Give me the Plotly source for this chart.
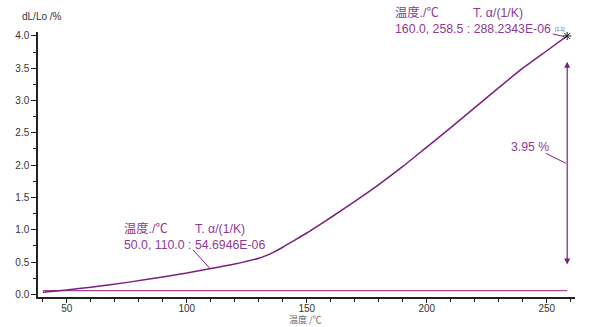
import plotly.graph_objects as go

# data
temp = [40, 50, 60, 76, 90, 100, 110, 120, 130, 133, 136, 140, 145, 150, 155, 160, 170, 180, 190, 200, 210, 220, 230, 240, 250, 258.5]
dl = [0.035, 0.07, 0.11, 0.19, 0.27, 0.33, 0.40, 0.47, 0.56, 0.60, 0.65, 0.73, 0.84, 0.95, 1.07, 1.19, 1.44, 1.70, 1.98, 2.28, 2.58, 2.89, 3.20, 3.50, 3.77, 4.00]
base_x = [40, 258.5]
base_y = [0.06, 0.06]
x_ticks = [50, 100, 150, 200, 250]
y_ticks = [0.0, 0.5, 1.0, 1.5, 2.0, 2.5, 3.0, 3.5, 4.0]

PURPLE = "#7a1f80"
PINK = "#a8449a"
TXT = "#8e3a93"
CJK = "Noto Sans CJK SC"
SANS = "Liberation Sans, Arial, sans-serif"
MIX = "Liberation Sans, Noto Sans CJK SC, sans-serif"
NB = "\u00a0"

L, R, T, B, W, H = 38, 14, 32, 30, 589, 327
PW, PH = W - L - R, H - T - B

def dx(px):
    return (px - L) / PW

def dy(py):
    return (H - B - py) / PH

fig = go.Figure()
fig.add_trace(go.Scatter(x=base_x, y=base_y, mode="lines", line=dict(color=PINK, width=1.2), hoverinfo="skip"))
fig.add_trace(go.Scatter(x=temp, y=dl, mode="lines", line=dict(color=PURPLE, width=1.5, shape="spline", smoothing=0.5), hoverinfo="skip"))
fig.add_trace(go.Scatter(x=[258.5], y=[4.0], mode="markers", marker=dict(symbol="asterisk", size=7, line=dict(color="#222", width=1)), hoverinfo="skip"))

def txt(px, py, s, size=12.3, font=MIX, color=TXT, xanchor="left"):
    fig.add_annotation(x=dx(px), y=dy(py), xref="x domain", yref="y domain", text=s, showarrow=False,
                       xanchor=xanchor, yanchor="middle", align="left", font=dict(family=font, size=size, color=color))

# top readout
txt(392.7, 20.0, "温度./℃" + NB * 10 + "T. α/(1/K)<br>160.0, 258.5 : 288.2343E-06")
txt(553, 29, "[1.1]", size=5, color="#555")
# bottom readout
txt(121.7, 236.7, "温度./℃" + NB * 8 + "T. α/(1/K)<br>50.0, 110.0 : 54.6946E-06")
# percent label
txt(530, 146.7, "3.95 %", xanchor="center")

# double arrow
fig.add_annotation(x=258.5, y=3.6, ax=258.5, ay=0.44, xref="x", yref="y", axref="x", ayref="y", text="",
                   showarrow=True, arrowhead=2, arrowside="end+start", arrowsize=1, arrowwidth=1.2, arrowcolor=PURPLE)
# axis titles
txt(20, 16.5, "dL/Lo /%", size=10, font=SANS, color="#333")
txt(305.5, 319.5, "温度 /℃", size=9, font=CJK, color="#666", xanchor="center")

# leader lines
for (x0, y0, x1, y1) in [(102.5, 0.69, 109.6, 0.405), (249.7, 2.18, 257.9, 2.03), (252.5, 4.03, 257.2, 3.99)]:
    fig.add_shape(type="line", x0=x0, y0=y0, x1=x1, y1=y1, xref="x", yref="y", line=dict(color=PURPLE, width=1))

fig.update_layout(
    width=W, height=H, margin=dict(l=L, r=R, t=T, b=B),
    paper_bgcolor="white", plot_bgcolor="white", showlegend=False,
    xaxis=dict(range=[38, 261.75], tickvals=x_ticks, ticks="outside", ticklen=4, tickcolor="#222",
               ticklabelstandoff=-3,
               showline=True, linecolor="#222", linewidth=1.5, showgrid=False, zeroline=False,
               tickfont=dict(family=SANS, size=10, color="#333"),
               minor=dict(dtick=10, tick0=0, ticks="outside", ticklen=3, tickcolor="#222", showgrid=False)),
    yaxis=dict(range=[-0.04, 4.06], tickvals=y_ticks, ticktext=[f"{v:.1f}" for v in y_ticks], ticks="outside",
               ticklen=5, tickcolor="#222", showline=True, linecolor="#222", linewidth=1.5, showgrid=False,
               zeroline=False, tickfont=dict(family=SANS, size=10, color="#333"),
               minor=dict(dtick=0.25, tick0=0, ticks="outside", ticklen=3, tickcolor="#222", showgrid=False)),
)
fig.write_html("out.html")
